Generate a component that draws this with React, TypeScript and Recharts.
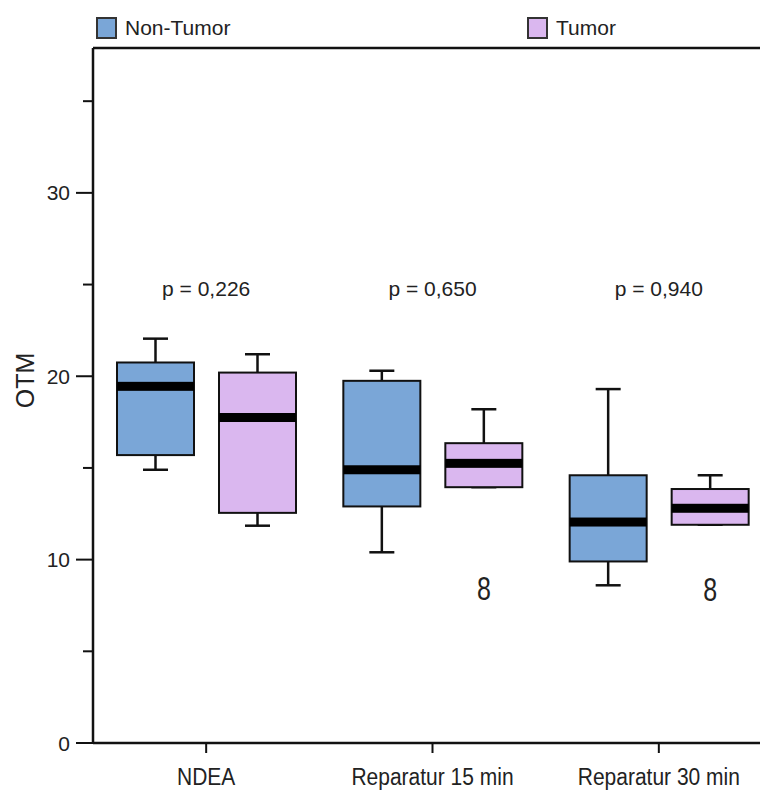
import { ComposedChart, Bar, Scatter, XAxis, YAxis, ReferenceLine, Legend } from "recharts";

const CATEGORIES = ["NDEA", "Reparatur 15 min", "Reparatur 30 min"];

// Non-Tumor box stats
const NT_MIN = [14.9, 10.4, 8.6];
const NT_Q1 = [15.7, 12.9, 9.9];
const NT_MEDIAN = [19.45, 14.9, 12.05];
const NT_Q3 = [20.75, 19.75, 14.6];
const NT_MAX = [22.05, 20.3, 19.3];
const NT_OUTLIER: (number | null)[] = [null, null, null];

// Tumor box stats
const T_MIN = [11.85, 13.95, 11.9];
const T_Q1 = [12.55, 13.95, 11.9];
const T_MEDIAN = [17.75, 15.25, 12.8];
const T_Q3 = [20.2, 16.35, 13.85];
const T_MAX = [21.2, 18.2, 14.6];
const T_OUTLIER: (number | null)[] = [null, 8.45, 8.4];
const OUTLIER_LABEL = "8";

const P_LABELS = ["p = 0,226", "p = 0,650", "p = 0,940"];
const P_LEVEL = 24.8;

const Y_TICKS = [0, 5, 10, 15, 20, 25, 30, 35];
const Y_MAX = 37.9;

const NT_COLOR = "#7aa6d7";
const T_COLOR = "#dab7ef";
const FONT = "'Liberation Sans', Arial, sans-serif";
const TEXT = "#222";

const data = CATEGORIES.map((name, i) => ({
  name,
  nt: { min: NT_MIN[i], q1: NT_Q1[i], med: NT_MEDIAN[i], q3: NT_Q3[i], max: NT_MAX[i], out: NT_OUTLIER[i] },
  t: { min: T_MIN[i], q1: T_Q1[i], med: T_MEDIAN[i], q3: T_Q3[i], max: T_MAX[i], out: T_OUTLIER[i] },
  pLabel: P_LABELS[i],
  pY: P_LEVEL,
}));

function BoxShape(props: any) {
  const { x, y, width, height, payload, group, color } = props;
  const s = payload[group];
  const top = Math.min(y, y + height);
  const bottom = Math.max(y, y + height);
  const py = (v: number) => top + ((s.max - v) / (s.max - s.min)) * (bottom - top);
  const cx = x + width / 2;
  const cap = 12.5;
  const yQ3 = py(s.q3);
  const yQ1 = py(s.q1);
  const yMed = py(s.med);
  return (
    <g>
      <line x1={cx} x2={cx} y1={py(s.max)} y2={yQ3} stroke="#111" strokeWidth={2.5} />
      <line x1={cx} x2={cx} y1={yQ1} y2={py(s.min)} stroke="#111" strokeWidth={2.5} />
      <line x1={cx - cap} x2={cx + cap} y1={py(s.max)} y2={py(s.max)} stroke="#111" strokeWidth={2.5} />
      <line x1={cx - cap} x2={cx + cap} y1={py(s.min)} y2={py(s.min)} stroke="#111" strokeWidth={2.5} />
      <rect x={x} y={yQ3} width={width} height={yQ1 - yQ3} fill={color} stroke="#111" strokeWidth={2} />
      <rect x={x} y={yMed - 4.5} width={width} height={9} fill="#000" />
      {s.out != null && (
        <text
          transform={`translate(${cx}, ${py(s.out)}) scale(1, 1.35)`}
          textAnchor="middle"
          dominantBaseline="central"
          fontSize={25}
          fontFamily={FONT}
          fill={TEXT}
        >
          {OUTLIER_LABEL}
        </text>
      )}
    </g>
  );
}

function YTick(props: any) {
  const { x, y, payload } = props;
  const major = payload.value % 10 === 0;
  return (
    <g>
      <line x1={x - (major ? 17 : 10)} x2={x} y1={y} y2={y} stroke="#111" strokeWidth={2} />
      {major && (
        <text x={x - 23} y={y} textAnchor="end" dominantBaseline="central" fontSize={21} fontFamily={FONT} fill={TEXT}>
          {payload.value}
        </text>
      )}
    </g>
  );
}

function XTick(props: any) {
  const { x, y, payload } = props;
  return (
    <text
      transform={`translate(${x}, ${y}) scale(1, 1.15)`}
      textAnchor="middle"
      dominantBaseline="hanging"
      fontSize={21}
      fontFamily={FONT}
      fill={TEXT}
    >
      {payload.value}
    </text>
  );
}

function PText(props: any) {
  const { cx, cy, payload } = props;
  return (
    <text x={cx} y={cy} textAnchor="middle" dominantBaseline="central" fontSize={21} fontFamily={FONT} fill={TEXT}>
      {payload.pLabel}
    </text>
  );
}

function LegendBox() {
  const item = (label: string, color: string, left: number) => (
    <div style={{ position: "absolute", left, top: 0, display: "flex", alignItems: "center" }}>
      <div style={{ width: 17, height: 18, background: color, border: "2px solid #333", marginRight: 8 }} />
      <span style={{ fontFamily: FONT, fontSize: 21, color: TEXT }}>{label}</span>
    </div>
  );
  return (
    <div style={{ position: "relative", width: 680, height: 24 }}>
      {item("Non-Tumor", NT_COLOR, 0)}
      {item("Tumor", T_COLOR, 431)}
    </div>
  );
}

export default function App() {
  return (
    <div style={{ position: "absolute", left: 0, top: 0, width: 760, height: 791, overflow: "hidden", background: "#fff" }}>
      <ComposedChart
        width={790}
        height={791}
        data={data}
        margin={{ top: 48, right: 18, bottom: 0, left: 0 }}
        barSize={77}
        barGap={25}
      >
        <Legend
          layout="vertical"
          align="center"
          verticalAlign="middle"
          wrapperStyle={{ top: 16, left: 96, width: 680 }}
          content={() => <LegendBox />}
        />
        <XAxis
          dataKey="name"
          height={48}
          axisLine={{ stroke: "#111", strokeWidth: 2.5 }}
          tickLine={{ stroke: "#111", strokeWidth: 2 }}
          tickSize={10}
          tickMargin={15}
          interval={0}
          tick={<XTick />}
        />
        <YAxis
          type="number"
          domain={[0, Y_MAX]}
          ticks={Y_TICKS}
          interval={0}
          width={93}
          axisLine={{ stroke: "#111", strokeWidth: 2.5 }}
          tickLine={false}
          tickSize={0}
          tickMargin={0}
          tick={<YTick />}
          allowDataOverflow
          label={{
            value: "OTM",
            content: ({ viewBox }: any) => (
              <text
                x={viewBox.x + 25}
                y={viewBox.y + viewBox.height / 2 - 15}
                textAnchor="middle"
                dominantBaseline="central"
                fontSize={25}
                fontFamily={FONT}
                fill={TEXT}
                transform={`rotate(-90, ${viewBox.x + 25}, ${viewBox.y + viewBox.height / 2 - 15})`}
              >
                OTM
              </text>
            ),
          }}
        />
        <ReferenceLine y={Y_MAX} stroke="#111" strokeWidth={2.5} />
        <Bar
          dataKey={(d: any) => [d.nt.min, d.nt.max]}
          isAnimationActive={false}
          shape={(p: any) => <BoxShape {...p} group="nt" color={NT_COLOR} />}
        />
        <Bar
          dataKey={(d: any) => [d.t.min, d.t.max]}
          isAnimationActive={false}
          shape={(p: any) => <BoxShape {...p} group="t" color={T_COLOR} />}
        />
        <Scatter dataKey="pY" isAnimationActive={false} shape={<PText />} />
      </ComposedChart>
    </div>
  );
}
